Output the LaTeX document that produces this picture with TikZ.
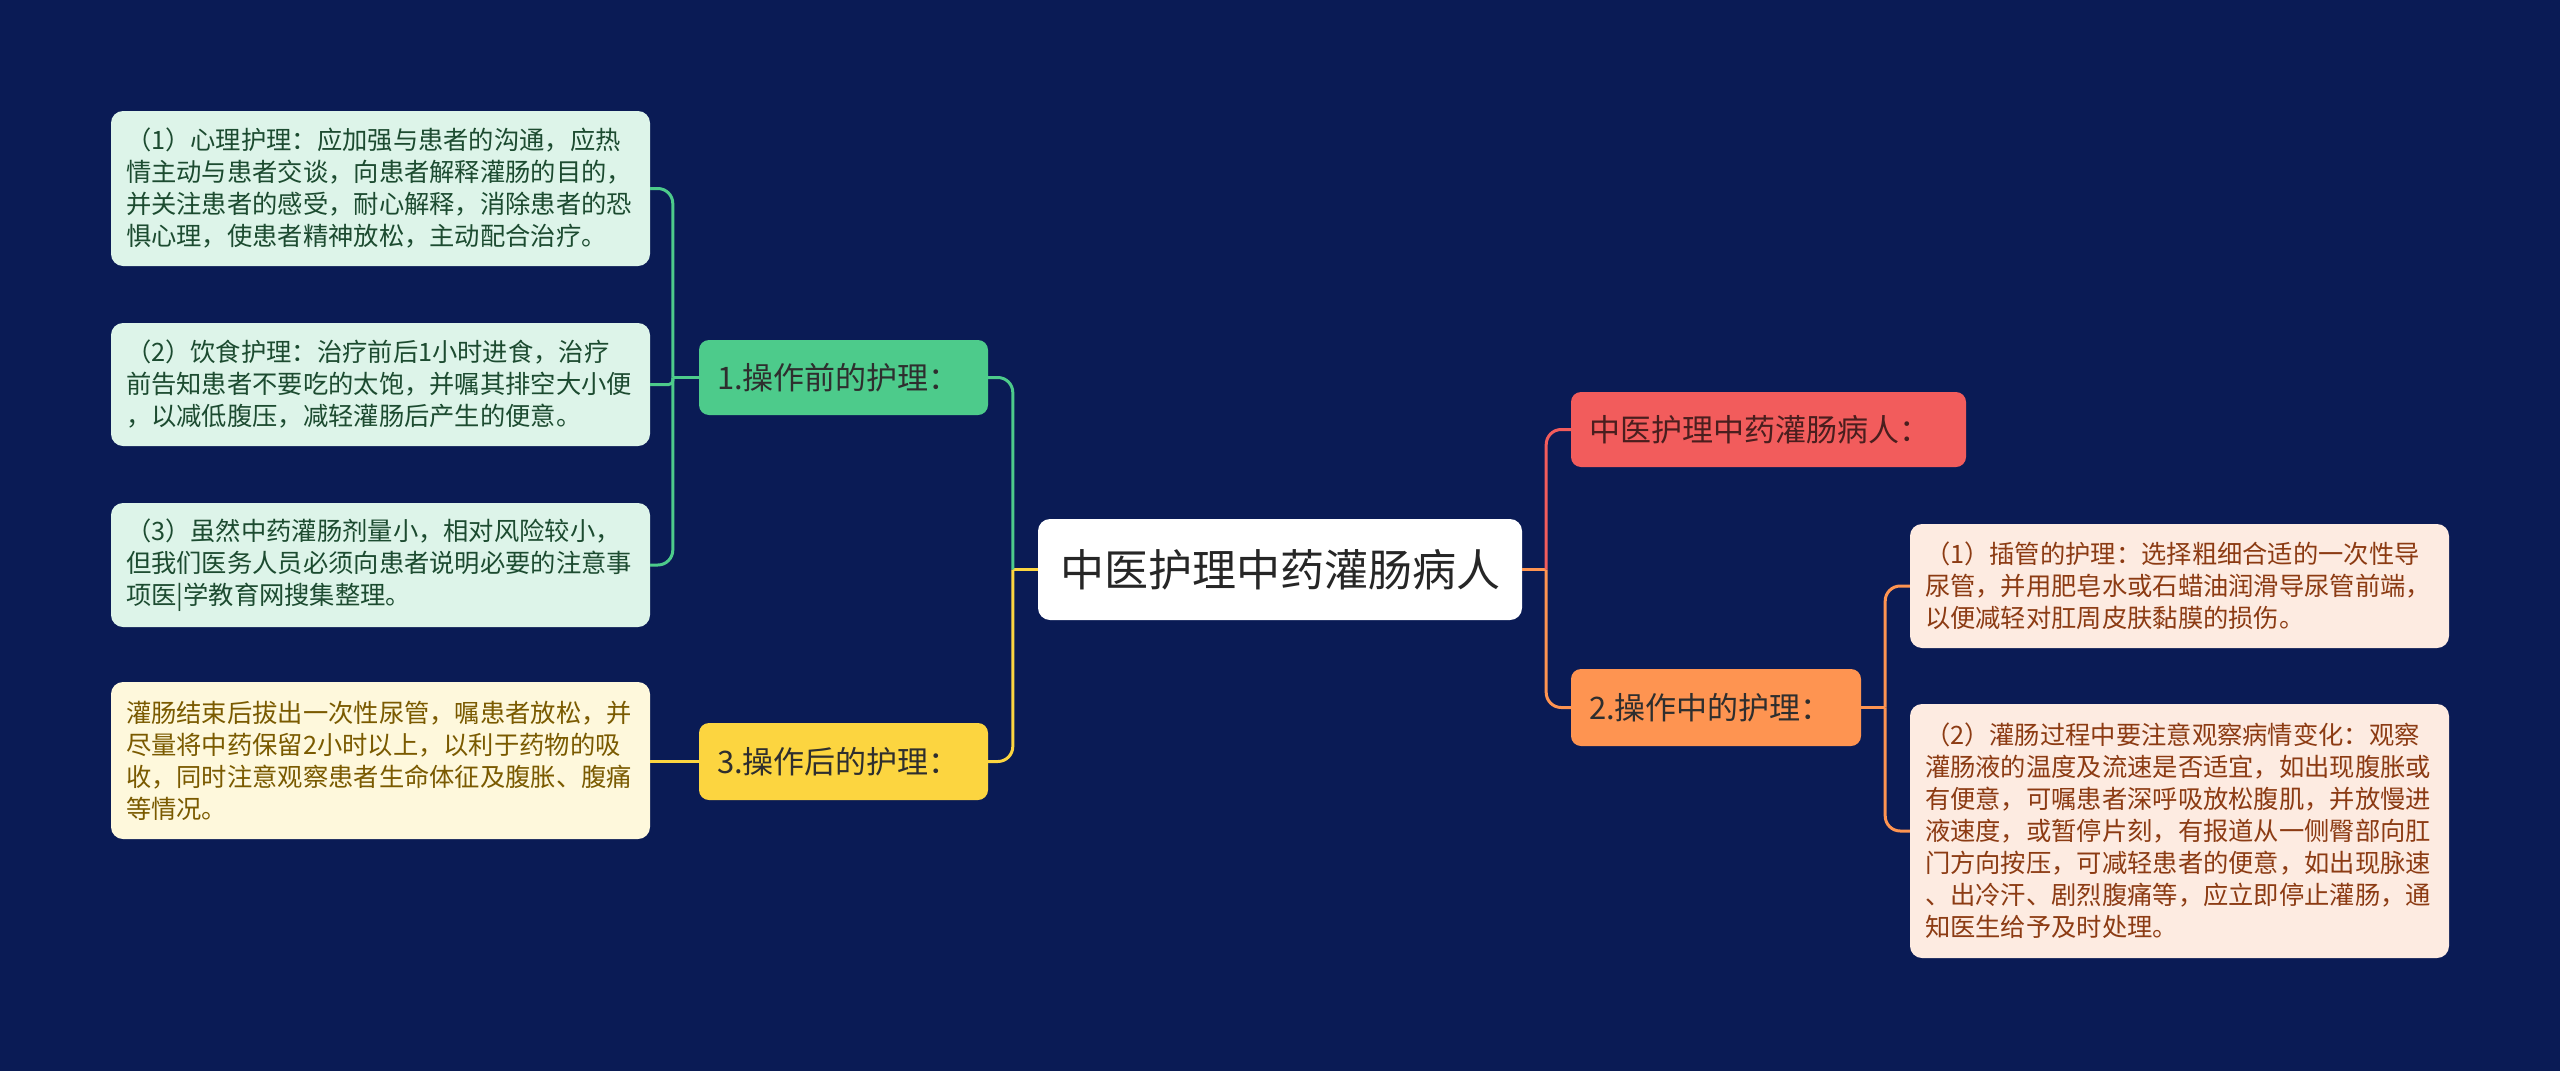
\documentclass[tikz,border=0pt]{standalone}
\usepackage{fontspec}
\setmainfont{Noto Sans CJK SC}
\definecolor{bg}{HTML}{0A1B55}
\definecolor{gmain}{HTML}{4DCB8B}
\definecolor{glight}{HTML}{DDF4E9}
\definecolor{gtext}{HTML}{1C4B30}
\definecolor{ymain}{HTML}{FCD540}
\definecolor{ylight}{HTML}{FEF8DC}
\definecolor{ytext}{HTML}{7A5A00}
\definecolor{rmain}{HTML}{F25C5C}
\definecolor{omain}{HTML}{FE9451}
\definecolor{olight}{HTML}{FDEBE1}
\definecolor{otext}{HTML}{8C3B13}
\definecolor{dtext}{HTML}{2E2E2E}
\definecolor{rtext}{HTML}{4A1E1E}
\begin{document}
\begin{tikzpicture}[x=1pt,y=-1pt,
  leaf/.style={rounded corners=12pt, inner xsep=15pt, inner ysep=0pt, text width=509pt, align=left, font=\fontsize{25.3}{32}\selectfont},
  leafg/.style={leaf, fill=glight, text=gtext},
  leafy/.style={leaf, fill=ylight, text=ytext},
  leafo/.style={leaf, fill=olight, text=otext},
  branch/.style={rounded corners=10pt, inner xsep=18pt, inner ysep=0pt, align=left, text=dtext, font=\fontsize{31}{36}\selectfont},
  conn/.style={line width=3pt},
  gline/.style={conn, draw=gmain},
  yline/.style={conn, draw=ymain},
  rline/.style={conn, draw=rmain},
  oline/.style={conn, draw=omain}]
\fill[bg] (0,0) rectangle (2560,1071);
\useasboundingbox (0,0) rectangle (2560,1071);

% center
\node[rounded corners=12pt, fill=white, text=black!85, minimum width=484pt, minimum height=101pt, inner sep=0pt, font=\fontsize{44}{52}\selectfont] (c) at (1280,569.5) {中医护理中药灌肠病人};

% branches
\node[branch, fill=gmain, text width=253pt, minimum height=75pt] (g) at (843.5,377.5) {1.操作前的护理：};
\node[branch, fill=ymain, text width=253pt, minimum height=77pt] (yb) at (843.5,761.5) {3.操作后的护理：};
\node[branch, fill=rmain, text=rtext, text width=359pt, minimum height=75pt] (rb) at (1768.5,429.5) {中医护理中药灌肠病人：};
\node[branch, fill=omain, text width=254pt, minimum height=77pt] (ob) at (1716,707.5) {2.操作中的护理：};

% left leaves
\node[leafg, minimum height=155pt] (l1) at (380.5,188.5) {（1）心理护理：应加强与患者的沟通，应热\\情主动与患者交谈，向患者解释灌肠的目的，\\并关注患者的感受，耐心解释，消除患者的恐\\惧心理，使患者精神放松，主动配合治疗。};
\node[leafg, minimum height=123pt] (l2) at (380.5,384.5) {（2）饮食护理：治疗前后1小时进食，治疗\\前告知患者不要吃的太饱，并嘱其排空大小便\\，以减低腹压，减轻灌肠后产生的便意。};
\node[leafg, minimum height=124pt] (l3) at (380.5,565) {（3）虽然中药灌肠剂量小，相对风险较小，\\但我们医务人员必须向患者说明必要的注意事\\项医|学教育网搜集整理。};
\node[leafy, minimum height=157pt] (l4) at (380.5,760.5) {灌肠结束后拔出一次性尿管，嘱患者放松，并\\尽量将中药保留2小时以上，以利于药物的吸\\收，同时注意观察患者生命体征及腹胀、腹痛\\等情况。};

% right leaves
\node[leafo, minimum height=124pt] (r1) at (2179.5,586) {（1）插管的护理：选择粗细合适的一次性导\\尿管，并用肥皂水或石蜡油润滑导尿管前端，\\以便减轻对肛周皮肤黏膜的损伤。};
\node[leafo, minimum height=254pt] (r2) at (2179.5,831) {（2）灌肠过程中要注意观察病情变化：观察\\灌肠液的温度及流速是否适宜，如出现腹胀或\\有便意，可嘱患者深呼吸放松腹肌，并放慢进\\液速度，或暂停片刻，有报道从一侧臀部向肛\\门方向按压，可减轻患者的便意，如出现脉速\\、出冷汗、剧烈腹痛等，应立即停止灌肠，通\\知医生给予及时处理。};

% connectors
\draw[yline] (c.west) -- ++(-25,0) coordinate (jl);
\draw[gline, rounded corners=15pt] (jl) |- (g.east);
\draw[yline, rounded corners=15pt] (jl) |- (yb.east);
\draw[oline] (c.east) -- ++(24,0) coordinate (jr);
\draw[rline, rounded corners=15pt] (jr) |- (rb.west);
\draw[oline, rounded corners=15pt] (jr) |- (ob.west);
\draw[oline] (ob.east) -- ++(24,0) coordinate (jo);
\draw[oline, rounded corners=15pt] (jo) |- (r1.west);
\draw[oline, rounded corners=15pt] (jo) |- (r2.west);
\draw[gline] (g.west) -- ++(-26,0) coordinate (jg);
\draw[gline, rounded corners=15pt] (jg) |- (l1.east);
\draw[gline, rounded corners=4pt] (jg) |- (l2.east);
\draw[gline, rounded corners=15pt] (jg) |- (l3.east);
\draw[yline] (yb.west) -- (yb.west -| l4.east);
\end{tikzpicture}
\end{document}
